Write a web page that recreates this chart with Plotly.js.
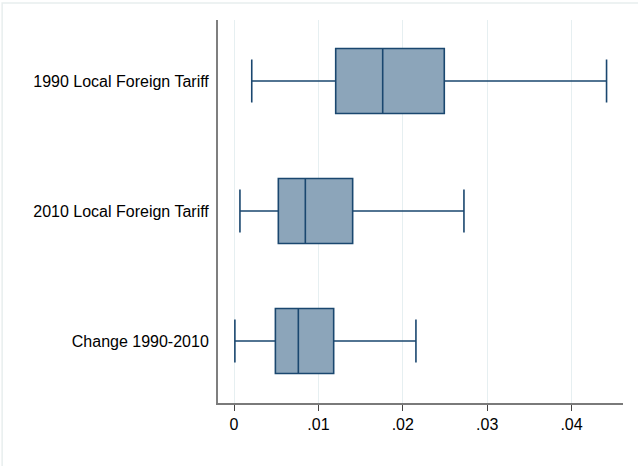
<!DOCTYPE html>
<html>
<head>
<meta charset="utf-8">
<script src="https://cdn.plot.ly/plotly-3.0.1.min.js"></script>
<style>html,body{margin:0;padding:0;background:#fff;}#chart{width:638px;height:466px;}</style>
</head>
<body>
<div id="chart"></div>
<script>
const categories = ['1990 Local Foreign Tariff', '2010 Local Foreign Tariff', 'Change 1990-2010'];
const lowerWhisker = [0.0021, 0.0007, 0.0001];
const q1Values = [0.01205, 0.00525, 0.00490];
const medianValues = [0.01762, 0.00845, 0.00762];
const q3Values = [0.02492, 0.01406, 0.01181];
const upperWhisker = [0.04415, 0.02725, 0.02156];
const xTickVals = [0, 0.01, 0.02, 0.03, 0.04];
const xTickText = ['0', '.01', '.02', '.03', '.04'];

const trace = {
  type: 'box',
  orientation: 'h',
  y: categories,
  q1: q1Values,
  median: medianValues,
  q3: q3Values,
  lowerfence: lowerWhisker,
  upperfence: upperWhisker,
  boxpoints: false,
  width: 0.5,
  whiskerwidth: 0.66,
  fillcolor: '#8ca5ba',
  line: {color: '#1a476f', width: 1.6},
  hoverinfo: 'skip',
  showlegend: false
};

const layout = {
  width: 638,
  height: 466,
  margin: {l: 218, r: 15, t: 20, b: 63},
  paper_bgcolor: '#ffffff',
  plot_bgcolor: '#ffffff',
  font: {family: 'Liberation Sans, Arial, sans-serif', size: 16, color: '#000000'},
  xaxis: {
    range: [-0.0019, 0.0461],
    tickvals: xTickVals,
    ticktext: xTickText,
    showgrid: true,
    gridcolor: '#e6eff1',
    gridwidth: 1,
    zeroline: false,
    showline: true,
    linecolor: '#7a7a7a',
    linewidth: 1.5,
    ticks: 'outside',
    ticklen: 6,
    tickcolor: '#444444',
    tickwidth: 1,
    tickfont: {size: 16, color: '#000000'}
  },
  yaxis: {
    type: 'category',
    categoryorder: 'array',
    categoryarray: categories,
    range: [2.477, -0.469],
    showgrid: false,
    zeroline: false,
    showline: true,
    linecolor: '#7f7f7f',
    linewidth: 2,
    ticks: '',
    ticklabelstandoff: 4,
    tickfont: {size: 16, color: '#000000'}
  },
  shapes: [{
    type: 'rect', xref: 'paper', yref: 'paper',
    x0: -0.533, x1: 1.04, y0: -0.18, y1: 1.0445,
    line: {color: '#e8eeee', width: 1.5},
    fillcolor: 'rgba(0,0,0,0)',
    layer: 'below'
  }]
};

Plotly.newPlot('chart', [trace], layout, {displayModeBar: false, staticPlot: true});
</script>
</body>
</html>
